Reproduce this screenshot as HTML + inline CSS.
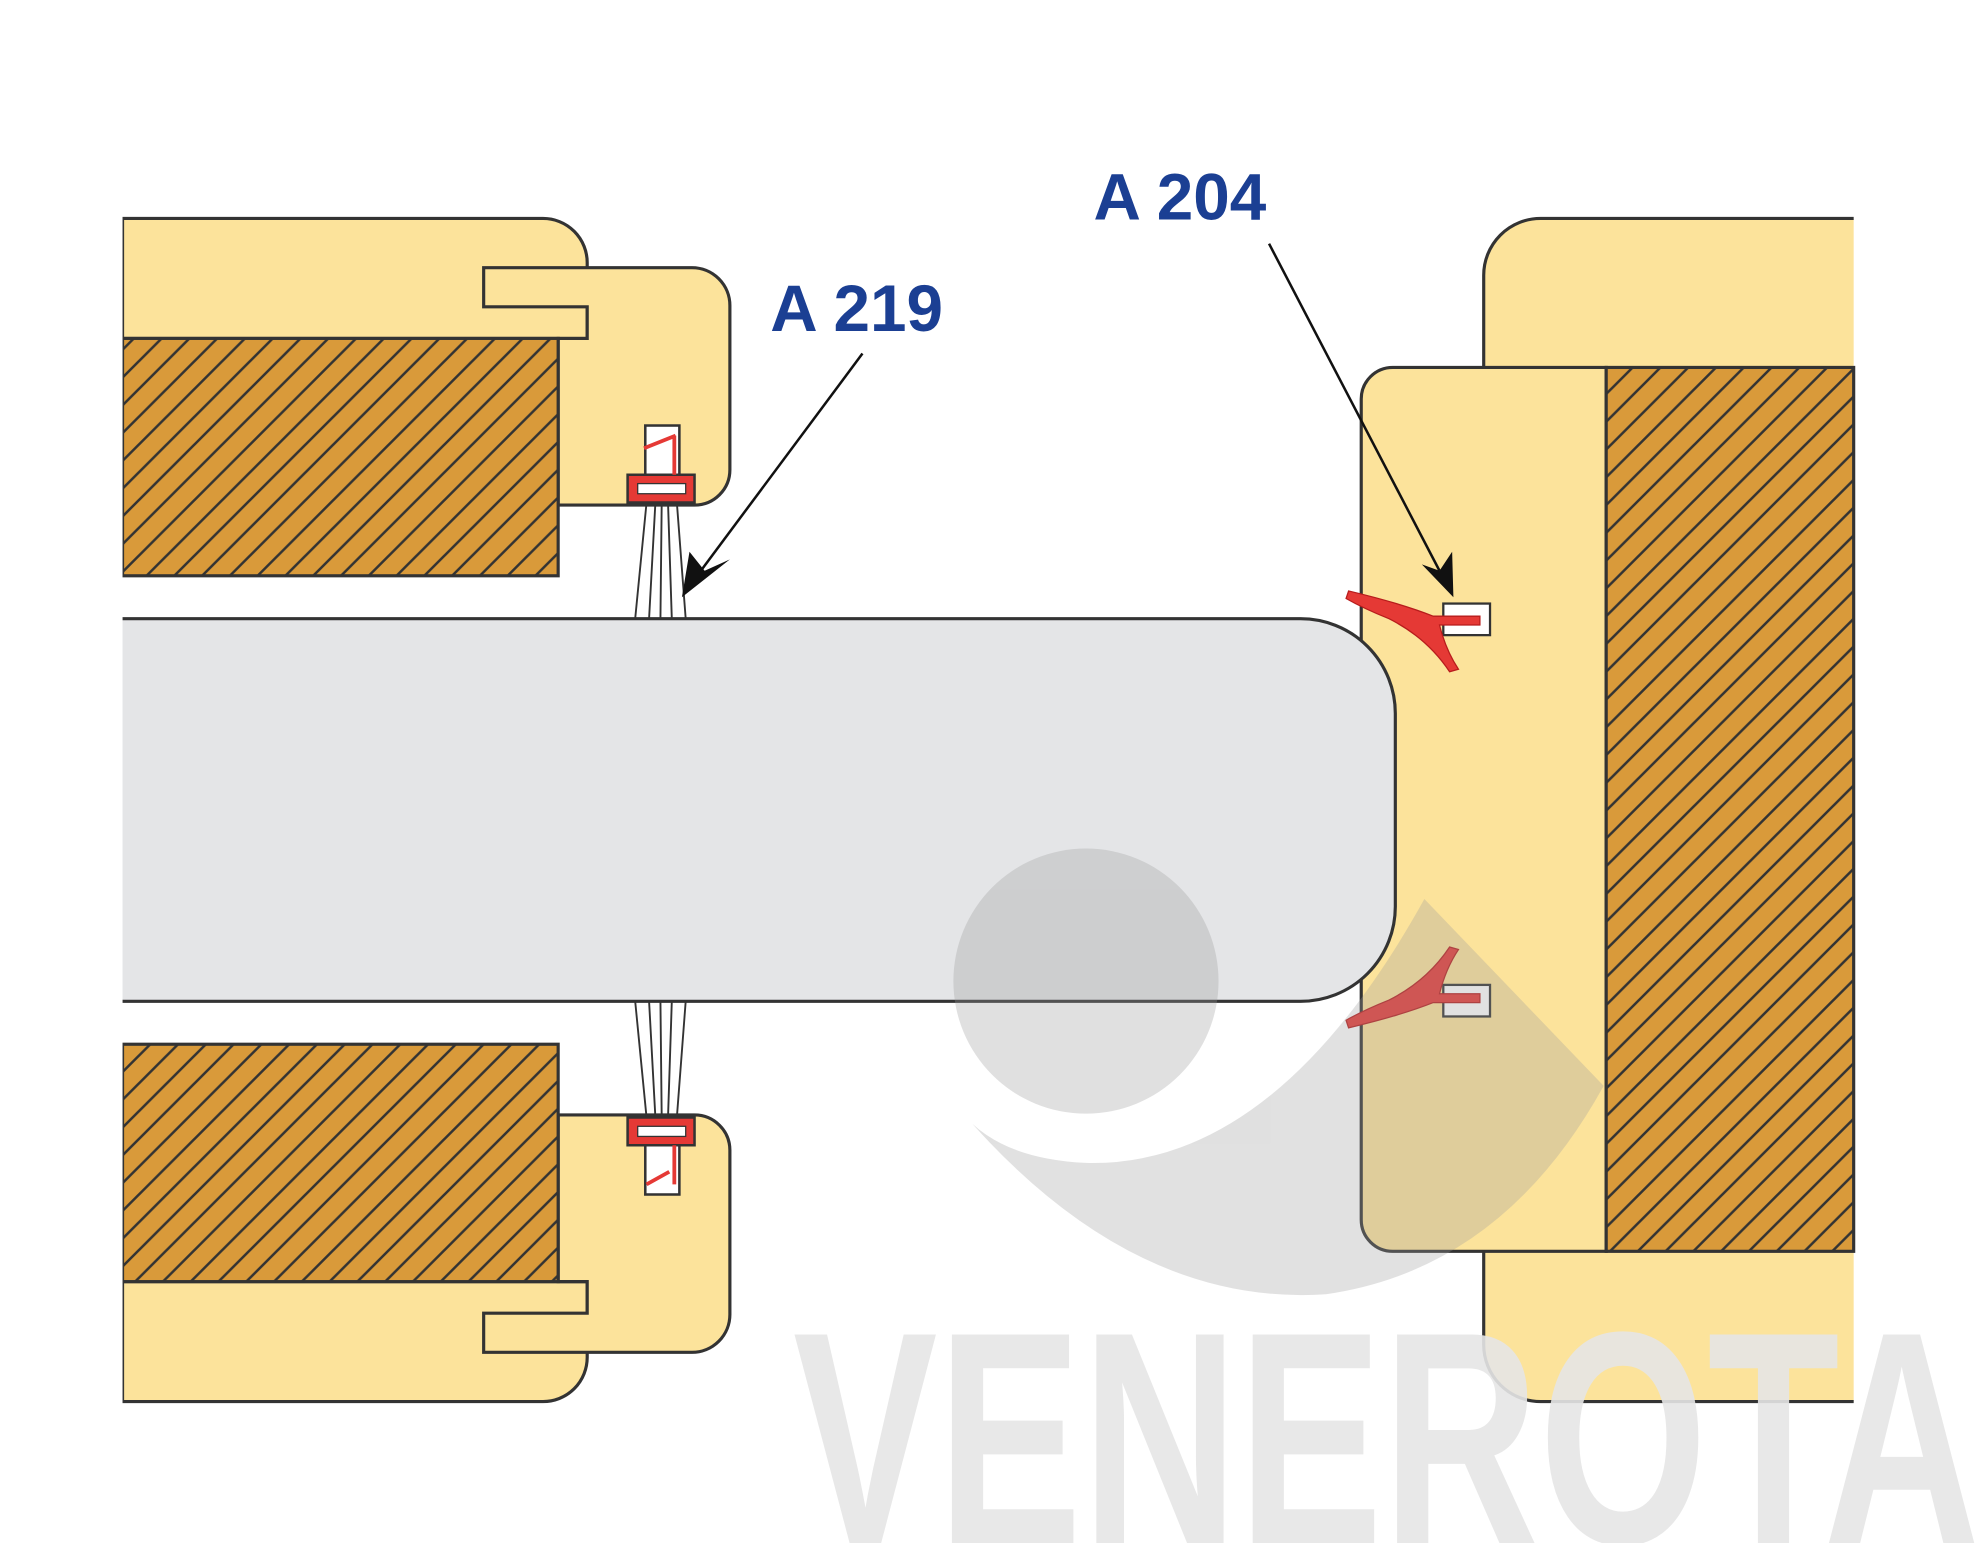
<!DOCTYPE html>
<html><head><style>html,body{margin:0;padding:0;background:#fff;width:1980px;height:1543px;overflow:hidden}svg{display:block}</style></head>
<body>
<svg width="1980" height="1543" viewBox="0 0 1568 1222" xmlns="http://www.w3.org/2000/svg">
<defs>
<pattern id="h" patternUnits="userSpaceOnUse" width="22" height="22">
<rect width="22" height="22" fill="#D99A3A"/>
<path d="M-2,24 L24,-2 M-13,13 L13,-13 M9,35 L35,9" stroke="#333" stroke-width="2"/>
</pattern>
</defs>
<g stroke="#333" stroke-width="2.5" fill="#FCE39B">
<path d="M97,173 H430 A35,35 0 0 1 465,208 V268 H97 Z"/>
<path d="M383,212 H548 A30,30 0 0 1 578,242 V372 A28,28 0 0 1 550,400 H442 V268 H465 V243 H383 Z"/>
<rect x="97" y="268" width="345" height="188" fill="url(#h)"/>
<path d="M97,1110 H430 A35,35 0 0 0 465,1075 V1015 H97 Z"/>
<path d="M383,1071 H548 A30,30 0 0 0 578,1041 V911 A28,28 0 0 0 550,883 H442 V1015 H465 V1040 H383 Z"/>
<rect x="97" y="827" width="345" height="188" fill="url(#h)"/>
<path d="M1468,173 H1220 A45,45 0 0 0 1175,218 V1065 A45,45 0 0 0 1220,1110 H1468"/>
<path d="M1272,291 H1103 A25,25 0 0 0 1078,316 V966 A25,25 0 0 0 1103,991 H1272 Z"/>
<rect x="1272" y="291" width="196" height="700" fill="url(#h)"/>
<path d="M97,490 H1030 A75,75 0 0 1 1105,565 V718 A75,75 0 0 1 1030,793 H97" fill="#E4E5E7"/>
</g>
<rect x="92" y="170" width="5" height="945" fill="#fff"/>
<g stroke="#333" stroke-width="1.5">
<path d="M512,398 L503,490 M519,398 L514,490 M524,398 L523,490 M529,398 L532,490 M536,398 L543,490"/>
<path d="M512,885 L503,793 M519,885 L514,793 M524,885 L523,793 M529,885 L532,793 M536,885 L543,793"/>
</g>
<g stroke="#333" stroke-width="2">
<rect x="511" y="337" width="27" height="40" fill="#fff"/>
<path d="M497,376 H550 V398 H497 Z" fill="#E53935"/>
<rect x="505" y="383" width="38" height="8" fill="#fff" stroke-width="1"/>
<rect x="511" y="906" width="27" height="40" fill="#fff"/>
<path d="M497,885 H550 V907 H497 Z" fill="#E53935"/>
<rect x="505" y="892" width="38" height="8" fill="#fff" stroke-width="1"/>
</g>
<path d="M510,355 L535,345 M534,345 V376" stroke="#E53935" stroke-width="3"/>
<path d="M512,938 L530,928 M534,907 V938" stroke="#E53935" stroke-width="3"/>
<g stroke="#333" stroke-width="1.8">
<rect x="1143" y="478" width="37" height="25" fill="#fff"/>
<rect x="1143" y="780" width="37" height="25" fill="#fff"/>
</g>
<g fill="#E53935" stroke="#B71C1C" stroke-width="1">
<path d="M1068,468 Q1110,478 1135,488 L1172,488 L1172,495 L1140,495 Q1145,515 1155,530 L1148,532 Q1130,505 1100,490 Q1080,482 1066,474 Z"/>
<path d="M1068,814 Q1110,804 1135,794 L1172,794 L1172,787 L1140,787 Q1145,767 1155,752 L1148,750 Q1130,777 1100,792 Q1080,800 1066,808 Z"/>
</g>
<g stroke="#111" stroke-width="2">
<line x1="683" y1="280" x2="555" y2="452"/>
<line x1="1005" y1="193" x2="1140" y2="452"/>
</g>
<path d="M540,473 L546,437 L558,452 L578,443 Z" fill="#111"/>
<path d="M1151,473 L1126,447 L1140,452 L1150,437 Z" fill="#111"/>
<g font-family="Liberation Sans, sans-serif" font-weight="bold" font-size="52" fill="#1B3F93">
<text x="610" y="262">A 219</text>
<text x="866" y="174">A 204</text>
</g>
<g fill="#9a9a9a" opacity="0.3">
<circle cx="860" cy="777" r="105"/>
<path d="M770,890 Q900,1035 1050,1025 Q1190,1005 1270,860 L1128,712 Q1010,925 860,921 Q800,918 770,890 Z"/>
</g>
<text x="628" y="1222" font-family="Liberation Sans Narrow, Liberation Sans, sans-serif" font-weight="bold" font-size="240" fill="#e6e6e6" textLength="940" lengthAdjust="spacingAndGlyphs" opacity="0.9">VENEROTA</text>
</svg>
</body></html>
